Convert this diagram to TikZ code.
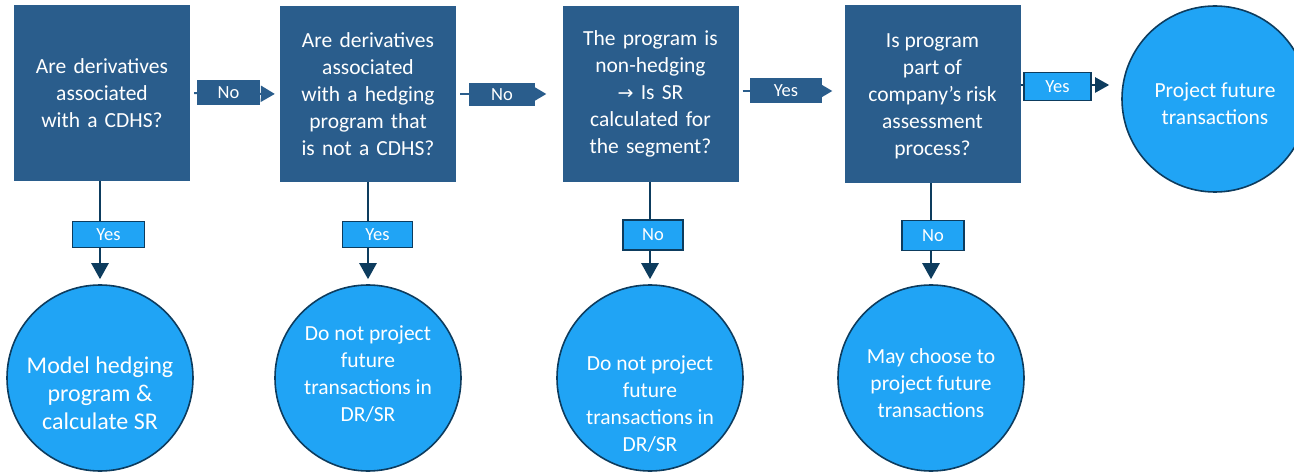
\documentclass[tikz,border=0pt]{standalone}
\usepackage{fontspec}
\setmainfont{Carlito}
\newfontfamily\arrowfont{DejaVu Sans}
\usetikzlibrary{arrows.meta}

\definecolor{boxblue}{HTML}{2A5D8C}
\definecolor{circblue}{HTML}{20A4F5}
\definecolor{navy}{HTML}{0D3C5E}

\tikzset{
	question/.style={fill=boxblue, text=white, minimum width=176pt, minimum height=176pt,
		text width=170pt, align=center, inner sep=0pt, font=\fontsize{21.5}{27}\selectfont},
	answer/.style={circle, fill=circblue, draw=navy, line width=1.6pt, minimum size=186pt, inner sep=0pt},
	answertext/.style={text=white, align=center, font=\fontsize{21.5}{27}\selectfont},
	darklabel/.style={fill=boxblue, text=white, minimum height=25pt, inner sep=0pt,
		font=\fontsize{18.5}{20}\selectfont},
	lightlabel/.style={fill=circblue, draw=navy, line width=1.6pt, text=white, minimum height=28pt,
		inner sep=0pt, font=\fontsize{18.5}{20}\selectfont},
	flow/.style={navy, line width=2.6pt, -{Triangle[width=17pt,length=16pt]}, shorten >=5pt},
	hflow/.style={boxblue, line width=2pt, -{Triangle[width=16pt,length=14pt]}, shorten <=4pt}
}

\begin{document}
\begin{tikzpicture}[x=1pt,y=-1pt]
	\useasboundingbox (0,0) rectangle (1294,473);
	% draw question boxes
	\node[question] (q1) at (102,93) {Are derivatives\\associated\\with a CDHS?};
	\node[question] (q2) at (368,94) {Are derivatives\\associated\\with a hedging\\program that\\is not a CDHS?};
	\node[question] (q3) at (650.5,94) {The program is\\non-hedging\\{\arrowfont\fontsize{19}{27}\selectfont→} Is SR\\calculated for\\the segment?};
	\node[question, minimum height=178pt, label={[text=white, align=center, font=\fontsize{21.5}{27}\selectfont, yshift=-2pt]center:Is program\\part of\\company's risk\\assessment\\process?}] (q4) at (932.5,94) {};
	% draw answer circles
	\node[answer, label={[answertext, font=\fontsize{24}{28}\selectfont, yshift=-15pt]center:Model hedging\\program \&\\calculate SR}] (a1) at (100,378) {};
	\node[answer, label={[answertext, yshift=4pt]center:Do not project\\future\\transactions in\\DR/SR}] (a2) at (368,378) {};
	\node[answer, label={[answertext, yshift=-26pt]center:Do not project\\future\\transactions in\\DR/SR}] (a3) at (650,378) {};
	\node[answer, label={[answertext, yshift=-5pt]center:May choose to\\project future\\transactions}] (a4) at (931,378) {};
	\node[answer, label={[answertext, yshift=-5pt]center:Project future\\transactions}] (a5) at (1215,99) {};
	% draw horizontal steps
	\draw[hflow, shorten >=5pt] (q1.east) -- (q2.west);
	\node[darklabel, minimum width=63pt] (n1) at (228.5,93) {No};
	\draw[hflow, shorten >=16pt] (q2.east) -- (q3.west);
	\node[darklabel, minimum width=66pt, minimum height=23pt] (n2) at (502,94.5) {No};
	\draw[hflow, shorten >=12pt] ([yshift=3pt]q3.east) -- ([yshift=3pt]q4.west);
	\node[darklabel, minimum width=72pt] (y3) at (786,90.5) {Yes};
	\draw[flow, line width=2.2pt, -{Triangle[width=15pt,length=14pt]}, shorten >=12pt]
		([yshift=9pt]q4.east) -- ([yshift=9pt]q4.east -| a5.west);
	\node[lightlabel, minimum width=67pt] (y4) at (1057.5,86.5) {Yes};
	% draw vertical steps
	\draw[flow] (q1.south -| a1.north) -- (a1.north);
	\node[lightlabel, minimum width=72pt, minimum height=26pt] (y1) at (108.5,234.5) {Yes};
	\draw[flow] (q2.south) -- (a2.north);
	\node[lightlabel, minimum width=70pt, minimum height=26pt] (y2) at (377.5,234.5) {Yes};
	\draw[flow] (q3.south -| a3.north) -- (a3.north);
	\node[lightlabel, minimum width=60pt, minimum height=30pt] (n3) at (653,235) {No};
	\draw[flow] (q4.south -| a4.north) -- (a4.north);
	\node[lightlabel, minimum width=62pt, minimum height=30pt] (n4) at (933,235.5) {No};
\end{tikzpicture}
\end{document}
